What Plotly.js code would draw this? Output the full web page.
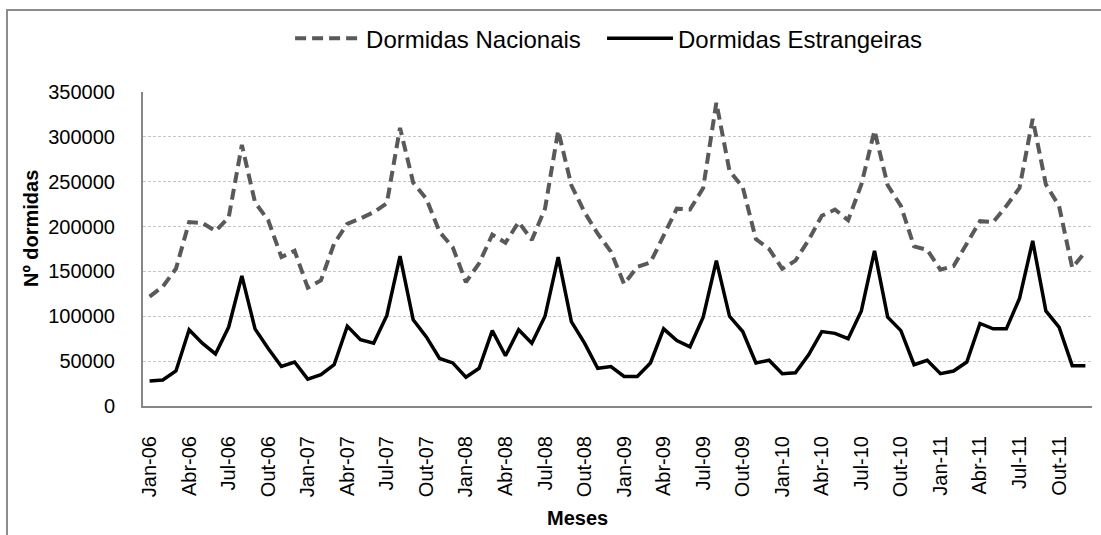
<!DOCTYPE html>
<html>
<head>
<meta charset="utf-8">
<script src="https://cdn.plot.ly/plotly-3.0.1.min.js"></script>
<style>
  body { margin: 0; background: #fff; }
  #wrap { position: relative; width: 1101px; height: 535px; overflow: hidden; }
  #frame { position: absolute; left: 6px; top: 9px; width: 1200px; height: 700px;
           border-left: 2px solid #8c8c8c; border-top: 2px solid #8c8c8c; pointer-events: none; }
</style>
</head>
<body>
<div id="wrap">
  <div id="main-plot"></div>
  <div id="frame"></div>
</div>
<script>
  // meses e anos (categorias)
  var meses = ["Jan", "Fev", "Mar", "Abr", "Mai", "Jun", "Jul", "Ago", "Set", "Out", "Nov", "Dez"];
  var anos = ["06", "07", "08", "09", "10", "11"];

  // Dormidas Nacionais
  var nacionais = [
    122000, 133000, 153000, 205000, 204000, 195000, 210000, 291000, 227000, 207000, 166000, 173000,
    132000, 140000, 181000, 203000, 209000, 216000, 226000, 310000, 249000, 231000, 194000, 177000,
    138000, 159000, 191000, 182000, 205000, 185000, 220000, 307000, 246000, 216000, 192000, 172000,
    136000, 155000, 160000, 190000, 220000, 219000, 243000, 338000, 262000, 244000, 186000, 175000,
    153000, 162000, 185000, 212000, 219000, 207000, 247000, 307000, 246000, 223000, 178000, 174000,
    152000, 156000, 181000, 206000, 205000, 223000, 243000, 320000, 247000, 223000, 154000, 172000
  ];

  // Dormidas Estrangeiras
  var estrangeiras = [
    28000, 29000, 39000, 85000, 70000, 58000, 88000, 145000, 86000, 64000, 44000, 49000,
    30000, 35000, 46000, 89000, 74000, 70000, 101000, 167000, 96000, 77000, 53000, 48000,
    32000, 42000, 84000, 56000, 85000, 70000, 100000, 166000, 94000, 70000, 42000, 44000,
    33000, 33000, 48000, 86000, 73000, 66000, 99000, 162000, 100000, 83000, 48000, 51000,
    36000, 37000, 57000, 83000, 81000, 75000, 106000, 173000, 99000, 84000, 46000, 51000,
    36000, 39000, 49000, 92000, 86000, 86000, 120000, 184000, 106000, 88000, 45000, 45000
  ];

  var categorias = [];
  anos.forEach(function (a) {
    meses.forEach(function (m) { categorias.push(m + "-" + a); });
  });
  // etiquetas de 3 em 3 meses
  var etiquetas = categorias.filter(function (c, i) { return i % 3 === 0; });

  var fonte = "Liberation Sans, Arial, sans-serif";

  var data = [
    {
      x: categorias,
      y: nacionais,
      name: "Dormidas Nacionais",
      mode: "lines",
      legend: "legend",
      line: { color: "rgb(89, 89, 89)", width: 4, dash: "11px,6px" }
    },
    {
      x: categorias,
      y: estrangeiras,
      name: "Dormidas Estrangeiras",
      mode: "lines",
      legend: "legend2",
      line: { color: "rgb(0, 0, 0)", width: 3.5 }
    }
  ];

  var legendaBase = {
    orientation: "h",
    xanchor: "left",
    y: 1.17, yanchor: "middle",
    font: { family: fonte, size: 24, color: "#000" },
    itemwidth: 66,
    bgcolor: "rgba(0,0,0,0)"
  };

  var layout = {
    width: 1101,
    height: 535,
    margin: { l: 143, r: 9, t: 92, b: 129 },
    paper_bgcolor: "#fff",
    plot_bgcolor: "#fff",
    font: { family: fonte, size: 20, color: "#000" },
    showlegend: true,
    legend: Object.assign({}, legendaBase, { x: 0.155 }),
    legend2: Object.assign({}, legendaBase, { x: 0.4837 }),
    xaxis: {
      type: "category",
      range: [-0.5, categorias.length - 0.5],
      tickvals: etiquetas,
      ticktext: etiquetas,
      tickangle: -90,
      ticks: "",
      ticklabelstandoff: 20,
      showgrid: false,
      showline: true,
      linecolor: "#868686",
      linewidth: 2,
      zeroline: false,
      fixedrange: true
    },
    yaxis: {
      range: [0, 350000],
      dtick: 50000,
      tickformat: "d",
      ticks: "",
      ticklabelstandoff: 22,
      showgrid: true,
      gridcolor: "#c6c6c6",
      gridwidth: 1,
      griddash: "3px,2px",
      showline: true,
      linecolor: "#868686",
      linewidth: 2,
      zeroline: false,
      fixedrange: true
    },
    annotations: [
      {
        text: "<b>Meses</b>", xref: "paper", yref: "paper",
        x: (577 - 143) / 949, y: (406 - 518) / 314,
        xanchor: "center", yanchor: "middle", showarrow: false,
        font: { family: fonte, size: 20, color: "#000" }
      },
      {
        text: "<b>Nº dormidas</b>", xref: "paper", yref: "paper",
        x: (31 - 143) / 949, y: (406 - 229) / 314,
        xanchor: "center", yanchor: "middle", showarrow: false, textangle: -90,
        font: { family: fonte, size: 20, color: "#000" }
      }
    ]
  };

  Plotly.newPlot("main-plot", data, layout, { staticPlot: true, displayModeBar: false });
</script>
</body>
</html>
